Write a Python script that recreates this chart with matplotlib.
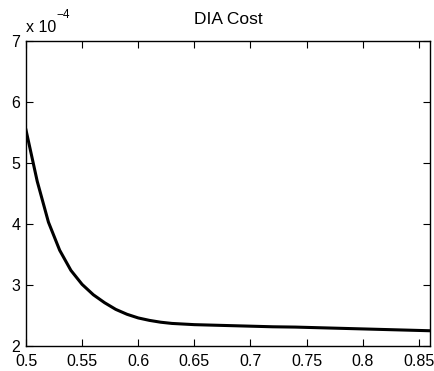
import numpy as np
import matplotlib
matplotlib.use('Agg')
import matplotlib.pyplot as plt

# DIA cost vs. threshold (cost in units of 1e-4)
threshold = [0.50, 0.51, 0.52, 0.53, 0.54, 0.55, 0.56, 0.57, 0.58, 0.59,
             0.60, 0.61, 0.62, 0.63, 0.64, 0.65, 0.66, 0.67, 0.68, 0.69,
             0.70, 0.72, 0.74, 0.76, 0.78, 0.80, 0.82, 0.84, 0.86]
cost_e4 = [5.54, 4.70, 4.03, 3.57, 3.24, 3.01, 2.84, 2.71, 2.60, 2.52,
           2.46, 2.42, 2.39, 2.37, 2.36, 2.35, 2.345, 2.34, 2.335, 2.33,
           2.325, 2.315, 2.31, 2.30, 2.29, 2.28, 2.27, 2.26, 2.25]

xticks = [0.5, 0.55, 0.6, 0.65, 0.7, 0.75, 0.8, 0.85]
yticks = [2, 3, 4, 5, 6, 7]

plt.rcParams['font.family'] = ['Liberation Sans', 'DejaVu Sans']

fig = plt.figure(figsize=(4.34, 3.71), dpi=100)
ax = fig.add_axes([26 / 434, 25 / 371, 404 / 434, 305 / 371])

ax.plot(threshold, cost_e4, color='black', lw=2.2, solid_joinstyle='round')

ax.set_xlim(0.5, 0.86)
ax.set_ylim(2, 7)
ax.set_xticks(xticks)
ax.set_xticklabels([f'{t:g}' for t in xticks])
ax.set_yticks(yticks)
ax.tick_params(direction='in', length=5, width=0.8, top=True, right=True,
               labelsize=11.5)
ax.tick_params(axis='x', pad=6)
ax.tick_params(axis='y', pad=4)
for s in ax.spines.values():
    s.set_linewidth(1.0)

ax.set_title('DIA Cost', fontsize=12.5, pad=12)
# scale factor above the y axis, exponent hung off the top-right of "x 10"
base = ax.text(0.0, 1.03, 'x 10', transform=ax.transAxes, fontsize=11.5,
               ha='left', va='baseline')
ax.annotate('\u22124', xy=(1.0, 1.0), xycoords=base, xytext=(0, 1),
            textcoords='offset points', fontsize=8.5, ha='left', va='baseline')

fig.savefig('out.png', dpi=100)
